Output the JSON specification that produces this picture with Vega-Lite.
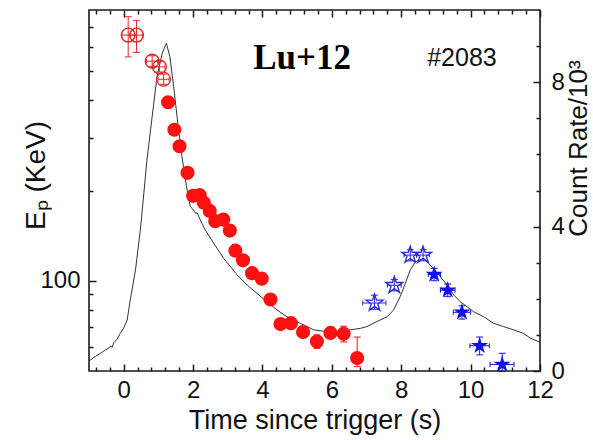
{
  "$schema": "https://vega.github.io/schema/vega-lite/v6.json",
  "width": 451,
  "height": 361,
  "autosize": {"type": "none"},
  "padding": {"left": 89, "top": 10, "right": 53, "bottom": 69},
  "background": "white",
  "config": {
    "view": {"stroke": "#1a1a1a", "strokeWidth": 1.6},
    "axis": {
      "domain": false, "grid": false,
      "labelFont": "Liberation Sans", "labelFontSize": 24, "labelColor": "#111",
      "titleFont": "Liberation Sans", "titleFontSize": 27, "titleFontWeight": "normal", "titleColor": "#111",
      "tickColor": "#1a1a1a", "tickWidth": 1.5, "labelFlush": false
    }
  },
  "datasets": {
    "lc": [
      {"t": -1.0, "c": 0.28}, {"t": -0.82, "c": 0.40}, {"t": -0.67, "c": 0.49}, {"t": -0.53, "c": 0.58},
      {"t": -0.45, "c": 0.62}, {"t": -0.38, "c": 0.69}, {"t": -0.33, "c": 0.66}, {"t": -0.29, "c": 0.78},
      {"t": -0.19, "c": 0.88}, {"t": -0.10, "c": 1.04}, {"t": 0.0, "c": 1.19}, {"t": 0.10, "c": 1.41},
      {"t": 0.19, "c": 1.97}, {"t": 0.34, "c": 2.80}, {"t": 0.48, "c": 3.91}, {"t": 0.58, "c": 4.92},
      {"t": 0.67, "c": 5.84}, {"t": 0.82, "c": 7.04}, {"t": 0.96, "c": 8.15}, {"t": 1.11, "c": 8.80},
      {"t": 1.23, "c": 9.08}, {"t": 1.33, "c": 8.71}, {"t": 1.44, "c": 7.88}, {"t": 1.56, "c": 6.86},
      {"t": 1.68, "c": 5.94}, {"t": 1.78, "c": 5.29}, {"t": 1.83, "c": 5.01}, {"t": 1.92, "c": 4.55},
      {"t": 1.98, "c": 4.50}, {"t": 2.07, "c": 4.37}, {"t": 2.12, "c": 4.38}, {"t": 2.21, "c": 4.18},
      {"t": 2.35, "c": 3.91}, {"t": 2.50, "c": 3.68}, {"t": 2.69, "c": 3.40}, {"t": 2.88, "c": 3.12},
      {"t": 3.08, "c": 2.89}, {"t": 3.27, "c": 2.66}, {"t": 3.56, "c": 2.38}, {"t": 3.84, "c": 2.15},
      {"t": 4.13, "c": 1.92}, {"t": 4.42, "c": 1.69}, {"t": 4.71, "c": 1.50}, {"t": 5.09, "c": 1.32},
      {"t": 5.48, "c": 1.14}, {"t": 5.86, "c": 1.09}, {"t": 6.0, "c": 1.16}, {"t": 6.1, "c": 1.08},
      {"t": 6.25, "c": 1.09}, {"t": 6.53, "c": 1.14}, {"t": 6.82, "c": 1.18}, {"t": 7.01, "c": 1.23},
      {"t": 7.30, "c": 1.37}, {"t": 7.59, "c": 1.50}, {"t": 7.78, "c": 1.69}, {"t": 7.97, "c": 2.06},
      {"t": 8.12, "c": 2.43}, {"t": 8.26, "c": 2.80}, {"t": 8.41, "c": 3.03}, {"t": 8.53, "c": 3.07},
      {"t": 8.65, "c": 3.12}, {"t": 8.79, "c": 2.98}, {"t": 8.93, "c": 2.84}, {"t": 9.13, "c": 2.61},
      {"t": 9.32, "c": 2.38}, {"t": 9.51, "c": 2.11}, {"t": 9.70, "c": 1.92}, {"t": 9.90, "c": 1.78},
      {"t": 10.09, "c": 1.64}, {"t": 10.38, "c": 1.50}, {"t": 10.66, "c": 1.32}, {"t": 10.95, "c": 1.23},
      {"t": 11.24, "c": 1.14}, {"t": 11.53, "c": 1.04}, {"t": 11.72, "c": 0.91}, {"t": 11.96, "c": 0.81},
      {"t": 12.0, "c": 0.80}
    ],
    "ep": [
      {"t": 0.13, "ep": 660, "lo": 558, "hi": 760, "tlo": -0.05, "thi": 0.31, "grp": "ro"},
      {"t": 0.37, "ep": 660, "lo": 577, "hi": 737, "tlo": 0.20, "thi": 0.54, "grp": "ro"},
      {"t": 0.82, "ep": 540, "lo": 518, "hi": 563, "tlo": 0.66, "thi": 0.98, "grp": "ro"},
      {"t": 1.03, "ep": 517, "lo": 497, "hi": 538, "tlo": 0.87, "thi": 1.19, "grp": "ro"},
      {"t": 1.15, "ep": 470, "lo": 452, "hi": 489, "tlo": 0.99, "thi": 1.31, "grp": "ro"},
      {"t": 1.28, "ep": 394, "grp": "rf"},
      {"t": 1.46, "ep": 319, "grp": "rf"},
      {"t": 1.61, "ep": 281, "grp": "rf"},
      {"t": 1.84, "ep": 229, "grp": "rf"},
      {"t": 2.00, "ep": 192, "grp": "rf"},
      {"t": 2.19, "ep": 193, "grp": "rf"},
      {"t": 2.31, "ep": 182, "grp": "rf"},
      {"t": 2.48, "ep": 171, "grp": "rf"},
      {"t": 2.64, "ep": 158, "grp": "rf"},
      {"t": 2.87, "ep": 160, "grp": "rf"},
      {"t": 3.06, "ep": 147, "grp": "rf"},
      {"t": 3.22, "ep": 126, "grp": "rf"},
      {"t": 3.44, "ep": 117, "grp": "rf"},
      {"t": 3.70, "ep": 106, "grp": "rf"},
      {"t": 3.98, "ep": 101.6, "grp": "rf"},
      {"t": 4.23, "ep": 86.6, "grp": "rf"},
      {"t": 4.52, "ep": 71.7, "grp": "rf"},
      {"t": 4.82, "ep": 72.2, "grp": "rf"},
      {"t": 5.17, "ep": 67.4, "grp": "rf"},
      {"t": 5.57, "ep": 62.7, "lo": 59.5, "hi": 66, "grp": "rf"},
      {"t": 5.96, "ep": 67.0, "grp": "rf"},
      {"t": 6.34, "ep": 66.5, "lo": 62.5, "hi": 70.5, "grp": "rf"},
      {"t": 6.73, "ep": 55.2, "lo": 51.7, "hi": 64.9, "grp": "rf"},
      {"t": 7.23, "ep": 84.3, "lo": 80.3, "hi": 89.5, "tlo": 6.89, "thi": 7.56, "grp": "bo"},
      {"t": 7.80, "ep": 96.6, "lo": 92.5, "hi": 101, "tlo": 7.60, "thi": 8.00, "grp": "bo"},
      {"t": 8.26, "ep": 121.8, "lo": 116.5, "hi": 127, "tlo": 8.08, "thi": 8.44, "grp": "bo"},
      {"t": 8.63, "ep": 121.8, "lo": 116.5, "hi": 127, "tlo": 8.45, "thi": 8.81, "grp": "bo"},
      {"t": 8.95, "ep": 105, "lo": 100, "hi": 110, "tlo": 8.78, "thi": 9.13, "grp": "bf"},
      {"t": 9.34, "ep": 93, "lo": 88.5, "hi": 97.5, "tlo": 9.13, "thi": 9.55, "grp": "bf"},
      {"t": 9.75, "ep": 78.5, "lo": 74.5, "hi": 82.5, "tlo": 9.50, "thi": 10.0, "grp": "bf"},
      {"t": 10.26, "ep": 60.7, "lo": 56.6, "hi": 64.9, "tlo": 9.98, "thi": 10.54, "grp": "bf"},
      {"t": 10.91, "ep": 52.6, "lo": 49.8, "hi": 57.3, "tlo": 10.56, "thi": 11.25, "grp": "bf"}
    ]
  },
  "layer": [
    {
      "data": {"name": "lc"},
      "transform": [{"filter": "datum.t <= 5.09"}],
      "mark": {"type": "line", "color": "#333333", "strokeWidth": 1},
      "encoding": {
        "x": {"field": "t", "type": "quantitative", "scale": {"domain": [-1, 12], "nice": false, "zero": false},
              "axis": {"orient": "bottom", "values": [0, 2, 4, 6, 8, 10, 12], "tickSize": -7, "labelPadding": 14,
                       "title": "Time since trigger (s)", "titlePadding": 5}},
        "y": {"field": "c", "type": "quantitative", "scale": {"domain": [0, 10], "nice": false, "zero": false},
              "axis": {"orient": "right", "values": [0, 4, 8], "tickSize": -7, "labelPadding": 18,
                       "title": "Count Rate/10³", "titleFontSize": 26, "titleAngle": 270, "titleX": 38, "titleY": 138,
                       "titleBaseline": "middle", "titleAlign": "center"}}
      }
    },
    {
      "data": {"name": "lc"},
      "transform": [{"filter": "datum.t >= 5.09"}],
      "mark": {"type": "line", "color": "#333333", "strokeWidth": 1},
      "encoding": {
        "x": {"field": "t", "type": "quantitative", "scale": {"domain": [-1, 12], "nice": false, "zero": false},
              "axis": {"orient": "bottom", "values": [-0.8, -0.4, 0.4, 0.8, 1.2, 1.6, 2.4, 2.8, 3.2, 3.6, 4.4, 4.8, 5.2, 5.6, 6.4, 6.8, 7.2, 7.6, 8.4, 8.8, 9.2, 9.6, 10.4, 10.8, 11.2, 11.6],
                       "tickSize": -4, "labels": false, "title": null}},
        "y": {"field": "c", "type": "quantitative", "scale": {"domain": [0, 10], "nice": false, "zero": false},
              "axis": {"orient": "right", "values": [1, 2, 3, 5, 6, 7, 9], "tickSize": -4, "labels": false, "title": null}}
      }
    },
    {
      "data": {"name": "ep"},
      "transform": [{"filter": "isValid(datum.lo)"}],
      "mark": {"type": "rule", "strokeWidth": 1},
      "encoding": {
        "x": {"field": "t", "type": "quantitative", "scale": {"domain": [-1, 12], "nice": false, "zero": false},
              "axis": {"orient": "top", "values": [0, 2, 4, 6, 8, 10, 12], "tickSize": -7, "labels": false, "title": null}},
        "y": {"field": "lo", "type": "quantitative", "scale": {"type": "log", "domain": [50, 800], "nice": false},
              "axis": {"orient": "left", "values": [100], "tickSize": -7, "labelPadding": 16,
                       "title": "Eₚ (KeV)", "titleFontSize": 28, "titleX": -53, "titleY": 165, "titleBaseline": "middle", "titleAlign": "center"}},
        "y2": {"field": "hi"},
        "color": {"field": "grp", "type": "nominal", "scale": {"domain": ["ro", "rf", "bo", "bf"], "range": ["#e02a2a", "#ff1010", "#2a2ad8", "#1010e8"]}, "legend": null}
      }
    },
    {
      "data": {"name": "ep"},
      "transform": [{"filter": "isValid(datum.tlo)"}],
      "mark": {"type": "rule", "strokeWidth": 1},
      "encoding": {
        "x": {"field": "tlo", "type": "quantitative", "scale": {"domain": [-1, 12], "nice": false, "zero": false},
              "axis": {"orient": "top", "values": [-0.8, -0.4, 0.4, 0.8, 1.2, 1.6, 2.4, 2.8, 3.2, 3.6, 4.4, 4.8, 5.2, 5.6, 6.4, 6.8, 7.2, 7.6, 8.4, 8.8, 9.2, 9.6, 10.4, 10.8, 11.2, 11.6],
                       "tickSize": -4, "labels": false, "title": null}},
        "x2": {"field": "thi"},
        "y": {"field": "ep", "type": "quantitative", "scale": {"type": "log", "domain": [50, 800], "nice": false},
              "axis": {"orient": "left", "values": [60, 70, 80, 90, 200, 300, 400, 500, 600, 700], "tickSize": -4, "labels": false, "title": null}},
        "color": {"field": "grp", "type": "nominal", "scale": {"domain": ["ro", "rf", "bo", "bf"], "range": ["#e02a2a", "#ff1010", "#2a2ad8", "#1010e8"]}, "legend": null}
      }
    },
    {
      "data": {"name": "ep"},
      "transform": [{"filter": "isValid(datum.lo)"}, {"fold": ["lo", "hi"], "as": ["k", "v"]}],
      "mark": {"type": "tick", "orient": "horizontal", "size": 7, "thickness": 1, "opacity": 1},
      "encoding": {
        "x": {"field": "t", "type": "quantitative", "scale": {"domain": [-1, 12], "nice": false, "zero": false}, "axis": null},
        "y": {"field": "v", "type": "quantitative", "scale": {"type": "log", "domain": [50, 800], "nice": false}, "axis": null},
        "color": {"field": "grp", "type": "nominal", "scale": {"domain": ["ro", "rf", "bo", "bf"], "range": ["#e02a2a", "#ff1010", "#2a2ad8", "#1010e8"]}, "legend": null}
      }
    },
    {
      "data": {"name": "ep"},
      "transform": [{"filter": "isValid(datum.tlo)"}, {"fold": ["tlo", "thi"], "as": ["k", "v"]}],
      "mark": {"type": "tick", "orient": "vertical", "size": 5, "thickness": 1, "opacity": 1},
      "encoding": {
        "x": {"field": "v", "type": "quantitative", "scale": {"domain": [-1, 12], "nice": false, "zero": false}, "axis": null},
        "y": {"field": "ep", "type": "quantitative", "scale": {"type": "log", "domain": [50, 800], "nice": false}, "axis": null},
        "color": {"field": "grp", "type": "nominal", "scale": {"domain": ["ro", "rf", "bo", "bf"], "range": ["#e02a2a", "#ff1010", "#2a2ad8", "#1010e8"]}, "legend": null}
      }
    },
    {
      "data": {"name": "ep"},
      "transform": [{"filter": "datum.grp === 'ro'"}],
      "mark": {"type": "point", "shape": "circle", "filled": false, "stroke": "#e02a2a", "strokeWidth": 1.4, "size": 190, "opacity": 1},
      "encoding": {
        "x": {"field": "t", "type": "quantitative", "scale": {"domain": [-1, 12], "nice": false, "zero": false}, "axis": null},
        "y": {"field": "ep", "type": "quantitative", "scale": {"type": "log", "domain": [50, 800], "nice": false}, "axis": null}
      }
    },
    {
      "data": {"name": "ep"},
      "transform": [{"filter": "datum.grp === 'rf'"}],
      "mark": {"type": "circle", "color": "#ff1010", "size": 200, "opacity": 1},
      "encoding": {
        "x": {"field": "t", "type": "quantitative", "scale": {"domain": [-1, 12], "nice": false, "zero": false}, "axis": null},
        "y": {"field": "ep", "type": "quantitative", "scale": {"type": "log", "domain": [50, 800], "nice": false}, "axis": null}
      }
    },
    {
      "data": {"name": "ep"},
      "transform": [{"filter": "datum.grp === 'bo'"}],
      "mark": {"type": "point", "shape": "M0,-1L0.225,-0.309L0.951,-0.309L0.363,0.118L0.588,0.809L0,0.382L-0.588,0.809L-0.363,0.118L-0.951,-0.309L-0.225,-0.309Z",
               "filled": false, "stroke": "#2a2ad8", "strokeWidth": 1.3, "size": 320, "opacity": 1},
      "encoding": {
        "x": {"field": "t", "type": "quantitative", "scale": {"domain": [-1, 12], "nice": false, "zero": false}, "axis": null},
        "y": {"field": "ep", "type": "quantitative", "scale": {"type": "log", "domain": [50, 800], "nice": false}, "axis": null}
      }
    },
    {
      "data": {"name": "ep"},
      "transform": [{"filter": "datum.grp === 'bf'"}],
      "mark": {"type": "point", "shape": "M0,-1L0.225,-0.309L0.951,-0.309L0.363,0.118L0.588,0.809L0,0.382L-0.588,0.809L-0.363,0.118L-0.951,-0.309L-0.225,-0.309Z",
               "filled": true, "color": "#1010e8", "size": 320, "opacity": 1},
      "encoding": {
        "x": {"field": "t", "type": "quantitative", "scale": {"domain": [-1, 12], "nice": false, "zero": false}, "axis": null},
        "y": {"field": "ep", "type": "quantitative", "scale": {"type": "log", "domain": [50, 800], "nice": false}, "axis": null}
      }
    },
    {
      "data": {"values": [{"t": 5.14, "ep": 507, "s": "Lu+12"}]},
      "mark": {"type": "text", "font": "Liberation Serif", "fontWeight": "bold", "fontSize": 35, "color": "#000", "align": "center", "baseline": "alphabetic"},
      "encoding": {
        "x": {"field": "t", "type": "quantitative", "scale": {"domain": [-1, 12], "nice": false, "zero": false}, "axis": null},
        "y": {"field": "ep", "type": "quantitative", "scale": {"type": "log", "domain": [50, 800], "nice": false}, "axis": null},
        "text": {"field": "s"}
      }
    },
    {
      "data": {"values": [{"t": 9.75, "ep": 520, "s": "#2083"}]},
      "mark": {"type": "text", "font": "Liberation Sans", "fontSize": 25, "color": "#111", "align": "center", "baseline": "alphabetic"},
      "encoding": {
        "x": {"field": "t", "type": "quantitative", "scale": {"domain": [-1, 12], "nice": false, "zero": false}, "axis": null},
        "y": {"field": "ep", "type": "quantitative", "scale": {"type": "log", "domain": [50, 800], "nice": false}, "axis": null},
        "text": {"field": "s"}
      }
    }
  ],
  "resolve": {"scale": {"x": "independent", "y": "independent"}}
}
